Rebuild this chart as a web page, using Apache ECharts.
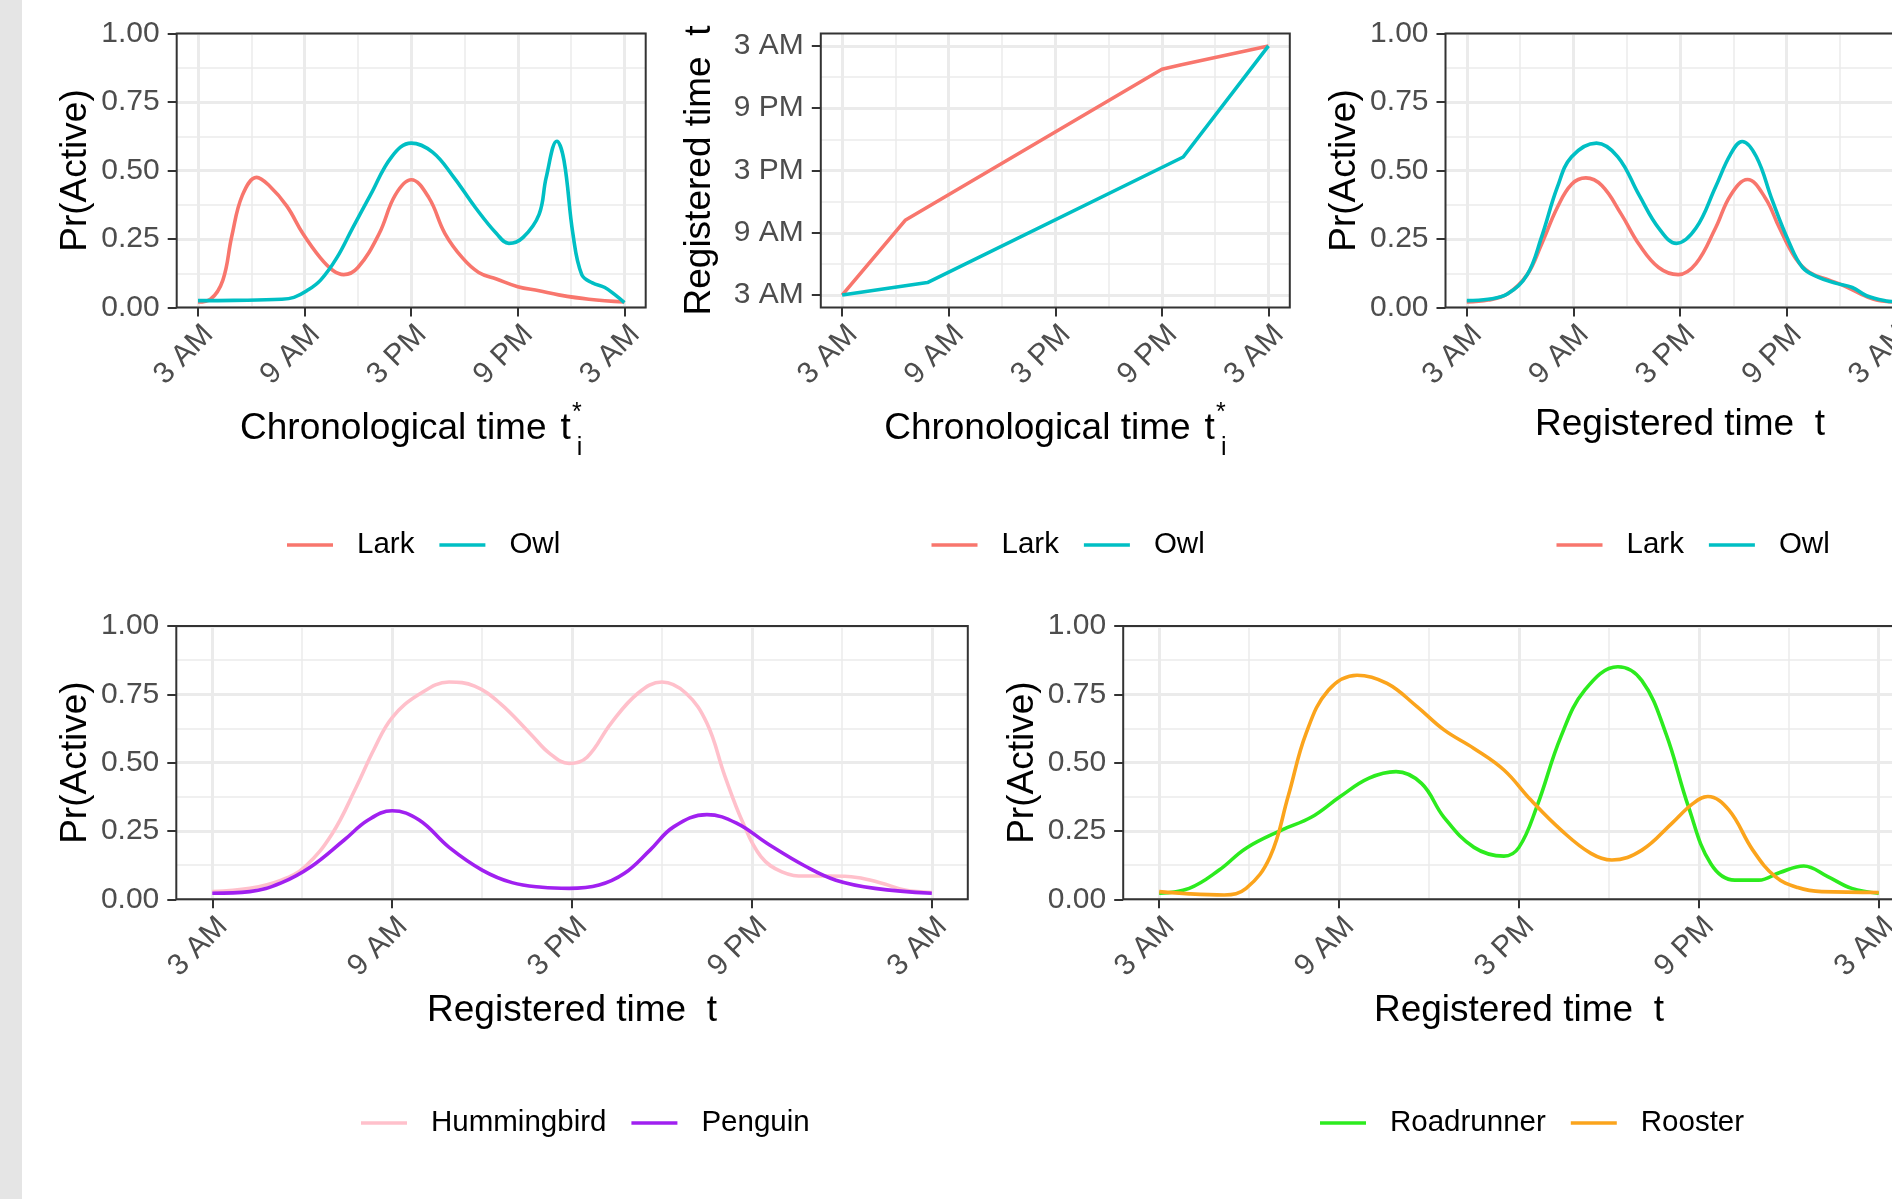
<!DOCTYPE html>
<html>
<head>
<meta charset="utf-8">
<title>Activity by time of day</title>
<script src="https://cdn.jsdelivr.net/npm/echarts@6/dist/echarts.min.js"></script>
<style>
  html, body { margin: 0; padding: 0; background: #ffffff; }
  #strip { position: absolute; left: 0; top: 0; width: 22px; height: 1199px; background: #e5e5e5; }
  #chart { position: absolute; left: 0; top: 0; width: 1892px; height: 1199px; }
</style>
</head>
<body>
<div id="strip"></div>
<div id="chart"></div>
<script>
// hours after 3 AM, 0..24
const hourTicks = [0, 6, 12, 18, 24];
const hourTickLabels = ["3 AM", "9 AM", "3 PM", "9 PM", "3 AM"];
const hourMinor = [3, 9, 15, 21];

// top left: Pr(Active) against chronological time
const larkChronoHours = [0, 0.7, 1.4, 1.9, 2.5, 3.3, 4.0, 5.0, 5.9, 6.9, 7.6, 8.2, 9.0, 10.2, 11.1, 12.0, 13.0, 13.9, 14.9, 15.8, 16.8, 18.0, 19.2, 20.3, 22.0, 24];
const larkChronoPr    = [0.02, 0.03, 0.10, 0.26, 0.41, 0.475, 0.445, 0.37, 0.27, 0.18, 0.135, 0.12, 0.146, 0.27, 0.41, 0.466, 0.40, 0.27, 0.18, 0.128, 0.104, 0.076, 0.061, 0.046, 0.03, 0.02];
const owlChronoHours  = [0, 2, 4.7, 5.4, 6.1, 6.9, 7.8, 8.7, 9.7, 10.9, 12.0, 13.2, 14.4, 15.6, 16.8, 17.5, 18.3, 19.2, 19.6, 20.2, 20.6, 21.1, 21.6, 22.2, 22.9, 23.5, 24];
const owlChronoPr     = [0.025, 0.026, 0.03, 0.037, 0.06, 0.10, 0.18, 0.29, 0.41, 0.55, 0.60, 0.567, 0.475, 0.366, 0.27, 0.234, 0.256, 0.34, 0.475, 0.607, 0.537, 0.27, 0.12, 0.09, 0.073, 0.045, 0.018];

// top middle: registered time against chronological time
const larkWarpChrono = [0, 3.55, 18.0, 19.1, 24];
const larkWarpReg    = [0, 7.2, 21.75, 22.2, 24];
const owlWarpChrono  = [0, 4.8, 19.2, 24];
const owlWarpReg     = [0, 1.2, 13.3, 24];

// top right: Pr(Active) against registered time
const larkRegHours = [0, 1.2, 2.3, 3.4, 4.2, 5.1, 5.9, 6.7, 7.6, 8.7, 9.7, 10.8, 11.9, 12.9, 14.0, 14.85, 15.8, 16.8, 17.6, 18.5, 19.3, 20.4, 21.2, 22.1, 22.9, 24];
const larkRegPr    = [0.02, 0.027, 0.05, 0.12, 0.23, 0.366, 0.45, 0.473, 0.445, 0.34, 0.23, 0.146, 0.12, 0.16, 0.29, 0.41, 0.467, 0.40, 0.29, 0.18, 0.128, 0.10, 0.08, 0.052, 0.03, 0.02];
const owlRegHours  = [0, 1.2, 2.3, 3.4, 4.2, 5.1, 5.9, 7.3, 8.5, 9.7, 10.8, 11.8, 12.9, 14.0, 14.85, 15.5, 16.3, 17.2, 18.1, 18.9, 19.8, 20.8, 21.7, 22.5, 23.6, 24];
const owlRegPr     = [0.025, 0.03, 0.05, 0.12, 0.256, 0.44, 0.55, 0.60, 0.55, 0.41, 0.29, 0.234, 0.29, 0.44, 0.56, 0.606, 0.55, 0.39, 0.244, 0.146, 0.11, 0.088, 0.073, 0.043, 0.024, 0.022];

// bottom left
const hummingbirdHours = [0, 1.25, 2.3, 3.1, 4.0, 4.8, 5.4, 6.0, 6.9, 7.9, 8.75, 9.6, 10.6, 11.25, 11.9, 12.5, 13.3, 14.2, 15.0, 15.8, 16.5, 17.1, 17.7, 18.3, 19.0, 19.8, 20.6, 21.5, 22.3, 23.1, 24];
const hummingbirdPr    = [0.028, 0.04, 0.07, 0.12, 0.24, 0.41, 0.55, 0.665, 0.75, 0.795, 0.78, 0.717, 0.607, 0.534, 0.497, 0.52, 0.644, 0.754, 0.795, 0.754, 0.644, 0.45, 0.28, 0.156, 0.10, 0.085, 0.085, 0.08, 0.06, 0.034, 0.025];
const penguinHours = [0, 1.25, 2.3, 3.3, 4.4, 5.2, 6.0, 6.9, 7.9, 9.0, 10.0, 11.0, 11.9, 12.9, 13.75, 14.6, 15.4, 16.5, 17.5, 18.5, 19.8, 20.8, 22.1, 24];
const penguinPr    = [0.022, 0.028, 0.06, 0.12, 0.217, 0.29, 0.324, 0.29, 0.19, 0.107, 0.061, 0.044, 0.04, 0.052, 0.095, 0.18, 0.266, 0.31, 0.278, 0.205, 0.12, 0.07, 0.04, 0.022];

// bottom right
const roadrunnerHours = [0, 1, 2, 2.9, 4.1, 5.07, 6.04, 7.0, 7.9, 8.75, 9.5, 10.5, 11.5, 12.0, 12.6, 13.4, 14.2, 15.3, 16.1, 16.9, 17.65, 18.4, 19.2, 20.0, 20.7, 21.5, 22.3, 23.1, 24];
const roadrunnerPr    = [0.022, 0.04, 0.107, 0.187, 0.254, 0.30, 0.376, 0.443, 0.467, 0.424, 0.30, 0.19, 0.158, 0.19, 0.34, 0.595, 0.766, 0.851, 0.80, 0.607, 0.34, 0.13, 0.07, 0.07, 0.098, 0.122, 0.083, 0.04, 0.022];
const roosterHours = [0, 1, 2.17, 2.9, 3.7, 4.3, 4.9, 5.65, 6.6, 7.6, 8.6, 9.5, 10.5, 11.5, 12.4, 13.4, 14.4, 15.1, 16.1, 17.1, 17.8, 18.3, 19.0, 19.8, 20.55, 21.3, 22.1, 24];
const roosterPr    = [0.028, 0.02, 0.016, 0.04, 0.156, 0.376, 0.607, 0.766, 0.82, 0.79, 0.705, 0.62, 0.552, 0.473, 0.363, 0.254, 0.168, 0.144, 0.18, 0.278, 0.35, 0.376, 0.327, 0.18, 0.083, 0.043, 0.028, 0.025];

const FONT = "'Liberation Sans', Arial, Helvetica, sans-serif";
const LARK = "#F8766D", OWL = "#00BFC4";
const tickLine = { color: "#333333", width: 2 };
const gridMajor = { color: "#EBEBEB", width: 3 };
const gridMinor = { color: "#EBEBEB", width: 1.5 };
const nameStyle = { fontSize: 37, color: "#000000", fontFamily: FONT };
const tickFont = { fontSize: 30, color: "#4D4D4D", fontFamily: FONT };

const zip = (a, b) => a.map((x, i) => [x, b[i]]);

// t with a stacked superscript * and subscript i
const chronoName = "{m|Chronological time}{g| }{m|t}{sup|*}{sub|i}";
const chronoStyle = {
    fontSize: 37, color: "#000000", fontFamily: FONT,
    rich: {
        m: { fontSize: 37, lineHeight: 37, verticalAlign: "top", padding: [17, 0, 0, 0], color: "#000000", fontFamily: FONT },
        g: { fontSize: 37, lineHeight: 37, width: 14, verticalAlign: "top", padding: [17, 0, 0, 0], color: "#000000", fontFamily: FONT },
        sup: { fontSize: 25, lineHeight: 25, width: 0, verticalAlign: "top", padding: [7, 0, 0, 6], color: "#000000", fontFamily: FONT },
        sub: { fontSize: 25, lineHeight: 25, verticalAlign: "top", padding: [42, 0, 0, 0], color: "#000000", fontFamily: FONT }
    }
};

function hourAxis(gridIndex, extra) {
    return Object.assign({
        type: "value",
        gridIndex: gridIndex,
        min: -1.2,
        max: 25.2,
        axisLine: { show: false, onZero: false },
        axisTick: { show: true, inside: false, length: 9, lineStyle: tickLine, customValues: hourTicks },
        axisLabel: Object.assign({
            customValues: hourTicks,
            formatter: (v) => hourTickLabels[hourTicks.indexOf(v)],
            margin: 17
        }, tickFont),
        splitLine: { show: true, lineStyle: gridMajor },
        nameMoveOverlap: false
    }, extra);
}

function hourMinorAxis(gridIndex) {
    return {
        type: "value",
        gridIndex: gridIndex,
        min: -1.2,
        max: 25.2,
        axisLine: { show: false, onZero: false },
        axisTick: { show: false, customValues: hourMinor },
        axisLabel: { show: false, customValues: hourMinor },
        splitLine: { show: true, lineStyle: gridMinor }
    };
}

function timeXAxis(gridIndex, name, nameGap, nameTextStyle) {
    return hourAxis(gridIndex, {
        position: "bottom",
        axisLabel: Object.assign({
            customValues: hourTicks,
            formatter: (v) => hourTickLabels[hourTicks.indexOf(v)],
            rotate: 45, align: "right", verticalAlign: "top", margin: 12
        }, tickFont),
        name: name, nameLocation: "middle", nameGap: nameGap,
        nameTextStyle: nameTextStyle
    });
}

function prAxis(gridIndex) {
    return {
        type: "value",
        gridIndex: gridIndex,
        min: 0,
        max: 1,
        interval: 0.25,
        axisLine: { show: false, onZero: false },
        axisTick: { show: true, inside: false, length: 9, lineStyle: tickLine },
        axisLabel: Object.assign({ formatter: (v) => v.toFixed(2), margin: 17 }, tickFont),
        splitLine: { show: true, lineStyle: gridMajor },
        minorTick: { show: false, splitNumber: 2 },
        minorSplitLine: { show: true, lineStyle: gridMinor },
        name: "Pr(Active)", nameLocation: "middle", nameRotate: 90, nameGap: 82,
        nameTextStyle: nameStyle, nameMoveOverlap: false
    };
}

const gridRects = [
    { left: 176.7, top: 33.5, width: 469, height: 274 },
    { left: 820.8, top: 33.5, width: 469, height: 274 },
    { left: 1445.5, top: 33.5, width: 469, height: 274 },
    { left: 176.3, top: 626, width: 791.5, height: 273.3 },
    { left: 1123.2, top: 626, width: 791.5, height: 273.3 }
];
const grids = gridRects.map((g) => Object.assign({}, g, {
    show: true, z: 1, borderColor: "#333333", borderWidth: 2,
    backgroundColor: "transparent", outerBoundsMode: "none", containLabel: false
}));

const xAxes = [
    timeXAxis(0, chronoName, 86, chronoStyle), hourMinorAxis(0),
    timeXAxis(1, chronoName, 86, chronoStyle), hourMinorAxis(1),
    timeXAxis(2, "Registered time  t", 99, nameStyle), hourMinorAxis(2),
    timeXAxis(3, "Registered time  t", 93, nameStyle), hourMinorAxis(3),
    timeXAxis(4, "Registered time  t", 93, nameStyle), hourMinorAxis(4)
];

const yAxes = [
    prAxis(0),
    hourAxis(1, {
        position: "left",
        name: "Registered time  t", nameLocation: "middle", nameRotate: 90, nameGap: 103,
        nameTextStyle: nameStyle
    }),
    Object.assign(hourMinorAxis(1), { position: "right" }),
    prAxis(2),
    prAxis(3),
    prAxis(4)
];

function curve(name, color, hours, values, xi, yi, smooth) {
    return {
        type: "line",
        name: name,
        xAxisIndex: xi,
        yAxisIndex: yi,
        data: zip(hours, values),
        symbol: "none",
        showSymbol: false,
        smooth: smooth === false ? false : 0.4,
        lineStyle: { color: color, width: 3.6 },
        itemStyle: { color: color },
        z: 3
    };
}

const series = [
    curve("Lark", LARK, larkChronoHours, larkChronoPr, 0, 0),
    curve("Owl", OWL, owlChronoHours, owlChronoPr, 0, 0),
    curve("Lark", LARK, larkWarpChrono, larkWarpReg, 2, 1, false),
    curve("Owl", OWL, owlWarpChrono, owlWarpReg, 2, 1, false),
    curve("Lark", LARK, larkRegHours, larkRegPr, 4, 3),
    curve("Owl", OWL, owlRegHours, owlRegPr, 4, 3),
    curve("Hummingbird", "#FFC0CB", hummingbirdHours, hummingbirdPr, 6, 4),
    curve("Penguin", "#A020F0", penguinHours, penguinPr, 6, 4),
    curve("Roadrunner", "#2CEB1E", roadrunnerHours, roadrunnerPr, 8, 5),
    curve("Rooster", "#FBA41C", roosterHours, roosterPr, 8, 5)
];

function legendAt(left, centerY, names) {
    return {
        left: left,
        top: centerY - 13,
        padding: 0,
        orient: "horizontal",
        itemWidth: 46,
        itemHeight: 36,
        itemGap: 25,
        icon: "path://M0,0H46V3.6H0Z",
        selectedMode: false,
        textStyle: { fontSize: 29.5, color: "#000000", fontFamily: FONT, padding: [0, 0, 0, 19] },
        data: names
    };
}

const legends = [
    legendAt(287, 543, ["Lark", "Owl"]),
    legendAt(931.5, 543, ["Lark", "Owl"]),
    legendAt(1556.5, 543, ["Lark", "Owl"]),
    legendAt(361, 1121, ["Hummingbird", "Penguin"]),
    legendAt(1320, 1121, ["Roadrunner", "Rooster"])
];

const chart = echarts.init(document.getElementById("chart"), null, { renderer: "canvas" });
chart.setOption({
    animation: false,
    backgroundColor: "transparent",
    textStyle: { fontFamily: FONT },
    grid: grids,
    xAxis: xAxes,
    yAxis: yAxes,
    legend: legends,
    series: series
});
</script>
</body>
</html>
